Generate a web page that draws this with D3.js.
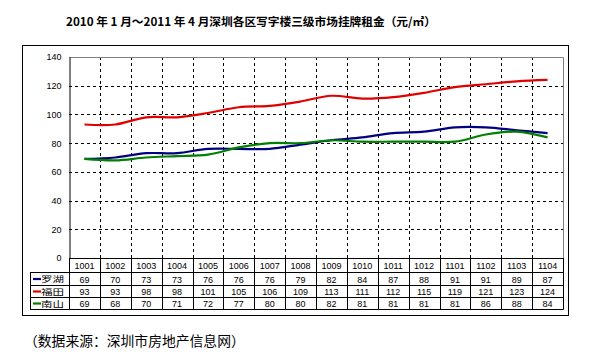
<!DOCTYPE html>
<html><head><meta charset="utf-8">
<script src="https://cdn.jsdelivr.net/npm/d3@7"></script>
<style>body{margin:0;background:#fff}svg{display:block}</style>
</head><body>
<script>
const categories = ["1001","1002","1003","1004","1005","1006","1007","1008","1009","1010","1011","1012","1101","1102","1103","1104"];
const seriesNames = ["罗湖","福田","南山"];
const luohu = [69,70,73,73,76,76,76,79,82,84,87,88,91,91,89,87];
const futian = [93,93,98,98,101,105,106,109,113,111,112,115,119,121,123,124];
const nanshan = [69,68,70,71,72,77,80,80,82,81,81,81,81,86,88,84];
const yTicks = [0,20,40,60,80,100,120,140];
const colors = ["#000080","#e00000","#008000"];
const title = "2010 年 1 月～2011 年 4 月深圳各区写字楼三级市场挂牌租金（元/㎡）";
const source = "（数据来源：深圳市房地产信息网）";

const series = [luohu, futian, nanshan];
const W = 601, H = 355;
const svg = d3.select("body").append("svg").attr("width", W).attr("height", H);
const cjk = "'Noto Sans CJK SC', sans-serif";
const num = "'Liberation Sans', Arial, sans-serif";

const plot = {l: 69, r: 563, t: 57, b: 258};
const x = d3.scaleBand().domain(categories).range([plot.l, plot.r]);
const y = d3.scaleLinear().domain([0, 140]).range([plot.b, plot.t]);

// outer frame
svg.append("rect").attr("x", 22.5).attr("y", 45.5).attr("width", 546).attr("height", 270)
  .attr("fill", "none").attr("stroke", "#000");

// title
svg.append("text").attr("x", 251).attr("y", 26).attr("text-anchor", "middle")
  .attr("font-family", cjk).attr("font-weight", "bold").attr("font-size", 11.7)
  .text(title);

// horizontal grid
svg.append("g").selectAll("line").data(yTicks.filter(d => d > 0 && d < 140)).join("line")
  .attr("x1", plot.l).attr("x2", plot.r)
  .attr("y1", d => Math.round(y(d)) + 0.5).attr("y2", d => Math.round(y(d)) + 0.5)
  .attr("stroke", "#000").attr("stroke-dasharray", "3,3");

// vertical grid (category boundaries)
const bounds = categories.slice(1).map(c => x(c));
svg.append("g").selectAll("line").data(bounds).join("line")
  .attr("x1", d => Math.round(d) + 0.5).attr("x2", d => Math.round(d) + 0.5)
  .attr("y1", plot.t).attr("y2", plot.b)
  .attr("stroke", "#000").attr("stroke-dasharray", "3,3");

// plot border top/right
svg.append("path").attr("d", `M${plot.l},${plot.t + 0.5}H${plot.r + 0.5}V${plot.b}`)
  .attr("fill", "none").attr("stroke", "#808080");

// y axis
const yAxis = d3.axisLeft(y).tickValues(yTicks).tickSize(0).tickPadding(8);
const ga = svg.append("g").attr("transform", `translate(${plot.l + 0.5},0)`).call(yAxis);
ga.select(".domain").attr("stroke", "#000");
ga.selectAll("text").attr("font-family", num).attr("font-size", 9).attr("fill", "#000");

// lines
const line = d3.line().x((d, i) => x(categories[i]) + x.bandwidth() / 2).y(d => y(d))
  .curve(d3.curveCatmullRom.alpha(0.5));
series.forEach((s, k) => {
  svg.append("path").datum(s).attr("d", line).attr("fill", "none")
    .attr("stroke", colors[k]).attr("stroke-width", 2.2);
});

// table
const rowH = [plot.b, 272, 285, 297, 309];
const legL = 30;
svg.append("line").attr("x1", plot.l).attr("x2", plot.r + 0.5).attr("y1", plot.b + 0.5).attr("y2", plot.b + 0.5).attr("stroke", "#000");
rowH.slice(1).forEach(yy => {
  svg.append("line").attr("x1", legL).attr("x2", plot.r + 0.5).attr("y1", yy + 0.5).attr("y2", yy + 0.5).attr("stroke", "#000");
});
const vx = [plot.l, ...bounds, plot.r];
svg.append("g").selectAll("line").data(vx).join("line")
  .attr("x1", d => Math.round(d) + 0.5).attr("x2", d => Math.round(d) + 0.5)
  .attr("y1", plot.b).attr("y2", rowH[4] + 0.5).attr("stroke", "#000");
svg.append("line").attr("x1", legL + 0.5).attr("x2", legL + 0.5).attr("y1", rowH[1]).attr("y2", rowH[4] + 0.5).attr("stroke", "#000");

// category labels
svg.append("g").selectAll("text").data(categories).join("text")
  .attr("x", d => x(d) + x.bandwidth() / 2).attr("y", (rowH[0] + rowH[1]) / 2 + 3.5)
  .attr("text-anchor", "middle").attr("font-family", num).attr("font-size", 9).text(d => d);

// rows
series.forEach((s, k) => {
  const cy = (rowH[k + 1] + rowH[k + 2]) / 2 + 0.5;
  svg.append("line").attr("x1", legL + 3).attr("x2", legL + 11).attr("y1", cy).attr("y2", cy)
    .attr("stroke", colors[k]).attr("stroke-width", 2.2);
  svg.append("text").attr("x", legL + 11).attr("y", cy + 3).attr("font-family", cjk)
    .attr("font-size", 8.2).attr("textLength", 23).attr("lengthAdjust", "spacingAndGlyphs")
    .text(seriesNames[k]);
  svg.append("g").selectAll("text").data(s).join("text")
    .attr("x", (d, i) => x(categories[i]) + x.bandwidth() / 2).attr("y", cy + 3.5)
    .attr("text-anchor", "middle").attr("font-family", num).attr("font-size", 9).text(d => d);
});

// source
svg.append("text").attr("x", 24).attr("y", 346).attr("font-family", cjk).attr("font-size", 13.8)
  .text(source);
</script>
</body></html>
